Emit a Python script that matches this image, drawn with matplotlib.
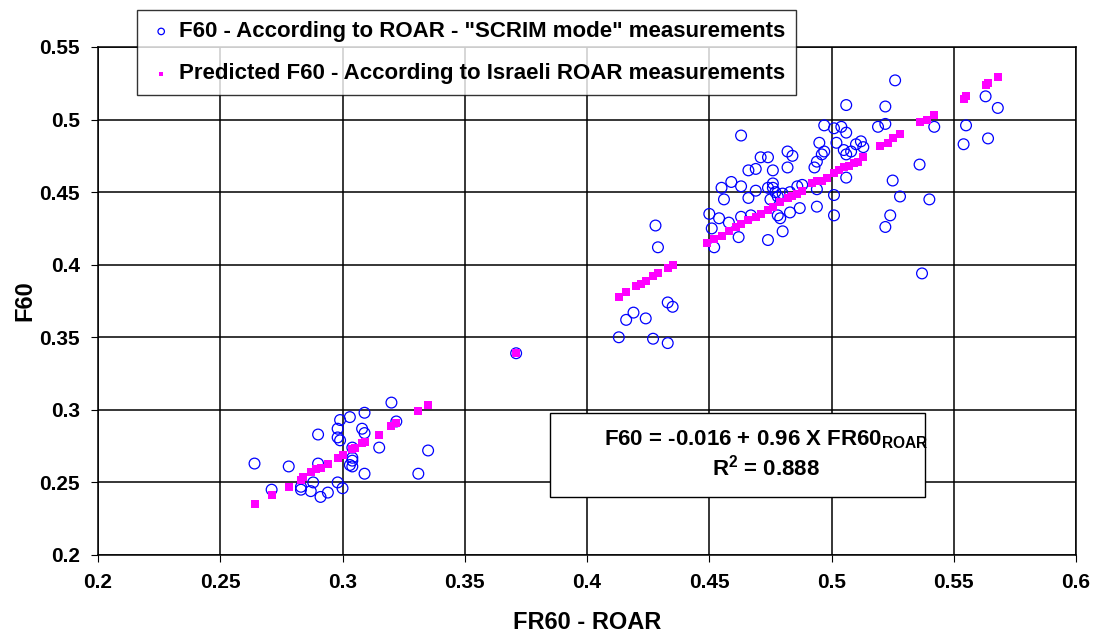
import matplotlib.pyplot as plt
from matplotlib.patches import Rectangle

plt.rcParams['font.family'] = ['Liberation Sans', 'DejaVu Sans']
plt.rcParams['font.weight'] = 'bold'
plt.rcParams['axes.labelweight'] = 'bold'
plt.rcParams['mathtext.fontset'] = 'custom'
plt.rcParams['mathtext.rm'] = 'Liberation Sans:bold'
plt.rcParams['mathtext.bf'] = 'Liberation Sans:bold'

# measured F60 (SCRIM mode) vs FR60 ROAR
meas_x = [0.264, 0.278, 0.271, 0.283, 0.283, 0.287, 0.288, 0.291, 0.294, 0.298,
          0.300, 0.290, 0.290, 0.299, 0.303, 0.298, 0.298, 0.299, 0.304, 0.304,
          0.304, 0.303, 0.304, 0.309, 0.308, 0.309, 0.315, 0.309, 0.320, 0.322,
          0.335, 0.331,
          0.371,
          0.413, 0.416, 0.419, 0.424, 0.427, 0.433, 0.433, 0.435, 0.428, 0.429,
          0.506, 0.497, 0.501, 0.504, 0.506, 0.495, 0.497, 0.496, 0.502, 0.505,
          0.506, 0.508, 0.510, 0.512, 0.513, 0.463, 0.471, 0.474, 0.482, 0.484,
          0.482, 0.466, 0.469, 0.476, 0.494, 0.493, 0.459, 0.455, 0.463, 0.469,
          0.474, 0.476, 0.476, 0.477, 0.478, 0.475, 0.466, 0.456, 0.480, 0.486,
          0.488, 0.483, 0.494, 0.501, 0.494, 0.487, 0.483, 0.478, 0.479, 0.467,
          0.463, 0.454, 0.458, 0.450, 0.451, 0.462, 0.474, 0.480, 0.501, 0.506,
          0.452,
          0.526, 0.522, 0.519, 0.522, 0.542, 0.537, 0.536, 0.525, 0.528, 0.540,
          0.524, 0.522, 0.555, 0.554, 0.564, 0.563, 0.568]
meas_y = [0.263, 0.261, 0.245, 0.247, 0.245, 0.244, 0.250, 0.240, 0.243, 0.250,
          0.246, 0.283, 0.263, 0.293, 0.295, 0.287, 0.281, 0.279, 0.274, 0.267,
          0.265, 0.262, 0.261, 0.298, 0.287, 0.284, 0.274, 0.256, 0.305, 0.292,
          0.272, 0.256,
          0.339,
          0.350, 0.362, 0.367, 0.363, 0.349, 0.346, 0.374, 0.371, 0.427, 0.412,
          0.510, 0.496, 0.494, 0.495, 0.491, 0.484, 0.478, 0.476, 0.484, 0.479,
          0.476, 0.478, 0.483, 0.485, 0.481, 0.489, 0.474, 0.474, 0.478, 0.475,
          0.467, 0.465, 0.466, 0.465, 0.471, 0.467, 0.457, 0.453, 0.454, 0.451,
          0.453, 0.456, 0.453, 0.450, 0.447, 0.445, 0.446, 0.445, 0.449, 0.454,
          0.455, 0.450, 0.452, 0.448, 0.440, 0.439, 0.436, 0.434, 0.432, 0.434,
          0.433, 0.432, 0.429, 0.435, 0.425, 0.419, 0.417, 0.423, 0.434, 0.460,
          0.412,
          0.527, 0.509, 0.495, 0.497, 0.495, 0.394, 0.469, 0.458, 0.447, 0.445,
          0.434, 0.426, 0.496, 0.483, 0.487, 0.516, 0.508]

# predicted F60 from Israeli ROAR measurements
pred_x = [0.264, 0.271, 0.278, 0.283, 0.284, 0.287, 0.289, 0.291, 0.294, 0.298,
          0.300, 0.304, 0.305, 0.308, 0.309, 0.315, 0.320, 0.322, 0.331, 0.335,
          0.371,
          0.413, 0.416, 0.420, 0.422, 0.424, 0.427, 0.429, 0.433, 0.435,
          0.449, 0.452, 0.455, 0.458, 0.461, 0.463, 0.466, 0.469, 0.471, 0.474,
          0.476, 0.479, 0.482, 0.484, 0.486, 0.488,
          0.492, 0.494, 0.496, 0.498, 0.501, 0.503, 0.505, 0.507, 0.509, 0.511,
          0.513, 0.520, 0.523, 0.525, 0.528, 0.536, 0.539, 0.542, 0.554, 0.555,
          0.563, 0.564, 0.568]
pred_y = [0.235, 0.241, 0.247, 0.252, 0.254, 0.257, 0.259, 0.260, 0.263, 0.267,
          0.269, 0.273, 0.274, 0.277, 0.278, 0.283, 0.289, 0.291, 0.299, 0.303,
          0.339,
          0.378, 0.381, 0.385, 0.387, 0.389, 0.392, 0.394, 0.398, 0.400,
          0.415, 0.418, 0.420, 0.423, 0.426, 0.428, 0.431, 0.433, 0.435, 0.438,
          0.440, 0.443, 0.446, 0.447, 0.449, 0.451,
          0.456, 0.458, 0.458, 0.460, 0.463, 0.465, 0.467, 0.468, 0.470, 0.471,
          0.474, 0.482, 0.484, 0.487, 0.490, 0.498, 0.500, 0.503, 0.514, 0.516,
          0.524, 0.525, 0.529]

x_ticks = [0.2, 0.25, 0.3, 0.35, 0.4, 0.45, 0.5, 0.55, 0.6]
y_ticks = [0.2, 0.25, 0.3, 0.35, 0.4, 0.45, 0.5, 0.55]

fig = plt.figure(figsize=(10.94, 6.35), dpi=100)
ax = fig.add_axes([0.0896, 0.126, 0.894, 0.8])

ax.scatter(meas_x, meas_y, s=60, facecolors='none', edgecolors='#0000ff',
           linewidths=0.9, zorder=3,
           label='F60 - According to ROAR - "SCRIM mode" measurements')
ax.scatter(pred_x, pred_y, s=26, marker='s', color='#ff00ff', linewidths=0,
           zorder=4,
           label='Predicted F60 - According to Israeli ROAR measurements')

ax.set_xlim(0.2, 0.6)
ax.set_ylim(0.2, 0.55)
ax.set_xticks(x_ticks)
ax.set_yticks(y_ticks)
ax.set_xticklabels([f'{v:g}' for v in x_ticks])
ax.set_yticklabels([f'{v:g}' for v in y_ticks])
ax.tick_params(labelsize=15, length=5, color='black', pad=8)
ax.grid(True, color='black', linewidth=1.1)
ax.set_axisbelow(True)
for sp in ax.spines.values():
    sp.set_color('black')
    sp.set_linewidth(1.1)

ax.set_xlabel('FR60 - ROAR', fontsize=17, labelpad=14)
ax.set_ylabel('F60', fontsize=17, labelpad=2)

leg = fig.legend(loc='upper left', bbox_to_anchor=(0.125, 0.984),
                 fontsize=16, frameon=True, fancybox=False, borderpad=0.5,
                 labelspacing=0.95, handletextpad=0.2, handlelength=1.2,
                 markerscale=0.6, borderaxespad=0)
leg.get_frame().set_edgecolor('black')
leg.get_frame().set_linewidth(1.0)

# equation box
fig.patches.append(Rectangle((550 / 1094, 1 - 497 / 635), 375 / 1094, 84 / 635,
                             transform=fig.transFigure, facecolor='white',
                             edgecolor='black', linewidth=1.0, zorder=5))
fig.text(766 / 1094, 1 - 440 / 635, r'F60 = -0.016 + 0.96 X FR60$_{\mathrm{ROAR}}$',
         ha='center', va='center', fontsize=16, zorder=6)
fig.text(766 / 1094, 1 - 468 / 635, r'R$^{\mathrm{2}}$ = 0.888',
         ha='center', va='center', fontsize=16, zorder=6)

fig.savefig('out.png', dpi=100)
